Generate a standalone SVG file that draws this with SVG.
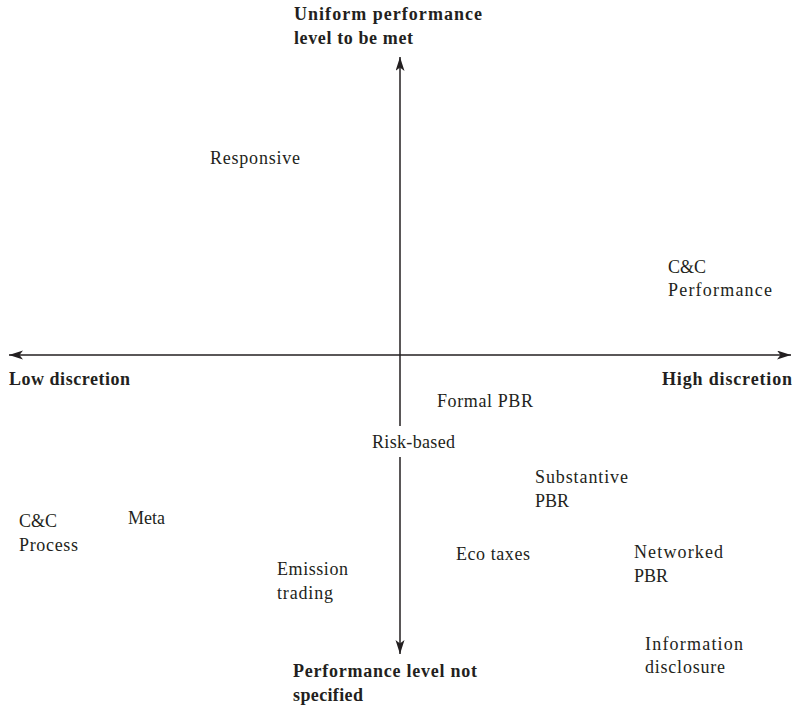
<svg xmlns="http://www.w3.org/2000/svg" width="797" height="709" viewBox="0 0 797 709">
<defs>
<style>
text{font-family:'Liberation Serif','DejaVu Serif',serif;font-size:18px;fill:#231f20;}
.b{font-weight:bold;}
.ax{stroke:#231f20;stroke-width:1.5;fill:none;}
</style>
<marker id="ah" markerUnits="userSpaceOnUse" markerWidth="16" markerHeight="10" refX="14" refY="4.5" orient="auto-start-reverse">
<path d="M0,0 L14,4.5 L0,9 L3.5,4.5 Z" fill="#231f20"/>
</marker>
</defs>
<rect width="797" height="709" fill="#fff"/>
<g id="connectors">
<line class="ax" x1="400" y1="654" x2="400" y2="57" marker-end="url(#ah)" marker-start="url(#ah)"/>
<line class="ax" x1="9" y1="355" x2="791" y2="355" marker-end="url(#ah)" marker-start="url(#ah)"/>
</g>
<g id="axis-top">
<text class="b" x="294" y="20" textLength="188">Uniform performance</text>
<text class="b" x="294" y="44" textLength="119">level to be met</text>
</g>
<g id="axis-bottom">
<text class="b" x="293" y="677" textLength="184">Performance level not</text>
<text class="b" x="293" y="701" textLength="70">specified</text>
</g>
<g id="axis-left">
<text class="b" x="9" y="385" textLength="121">Low discretion</text>
</g>
<g id="axis-right">
<text class="b" x="662" y="385" textLength="130">High discretion</text>
</g>
<g id="responsive">
<text x="210" y="164" textLength="90">Responsive</text>
</g>
<g id="cc-performance">
<text x="668" y="273">C&amp;C</text>
<text x="668" y="296" textLength="104">Performance</text>
</g>
<g id="formal-pbr">
<text x="437" y="407" textLength="96">Formal PBR</text>
</g>
<g id="risk-based">
<rect x="366" y="426" width="94" height="31" fill="#fff"/>
<text x="372" y="448" textLength="83">Risk-based</text>
</g>
<g id="substantive-pbr">
<text x="535" y="483" textLength="93">Substantive</text>
<text x="535" y="507">PBR</text>
</g>
<g id="cc-process">
<text x="19" y="527">C&amp;C</text>
<text x="19" y="551" textLength="59">Process</text>
</g>
<g id="meta">
<text x="128" y="524">Meta</text>
</g>
<g id="emission-trading">
<text x="277" y="575" textLength="71">Emission</text>
<text x="277" y="599" textLength="56">trading</text>
</g>
<g id="eco-taxes">
<text x="456" y="560" textLength="74">Eco taxes</text>
</g>
<g id="networked-pbr">
<text x="634" y="558" textLength="89">Networked</text>
<text x="634" y="582">PBR</text>
</g>
<g id="information-disclosure">
<text x="645" y="650" textLength="98">Information</text>
<text x="645" y="673" textLength="80">disclosure</text>
</g>
</svg>
